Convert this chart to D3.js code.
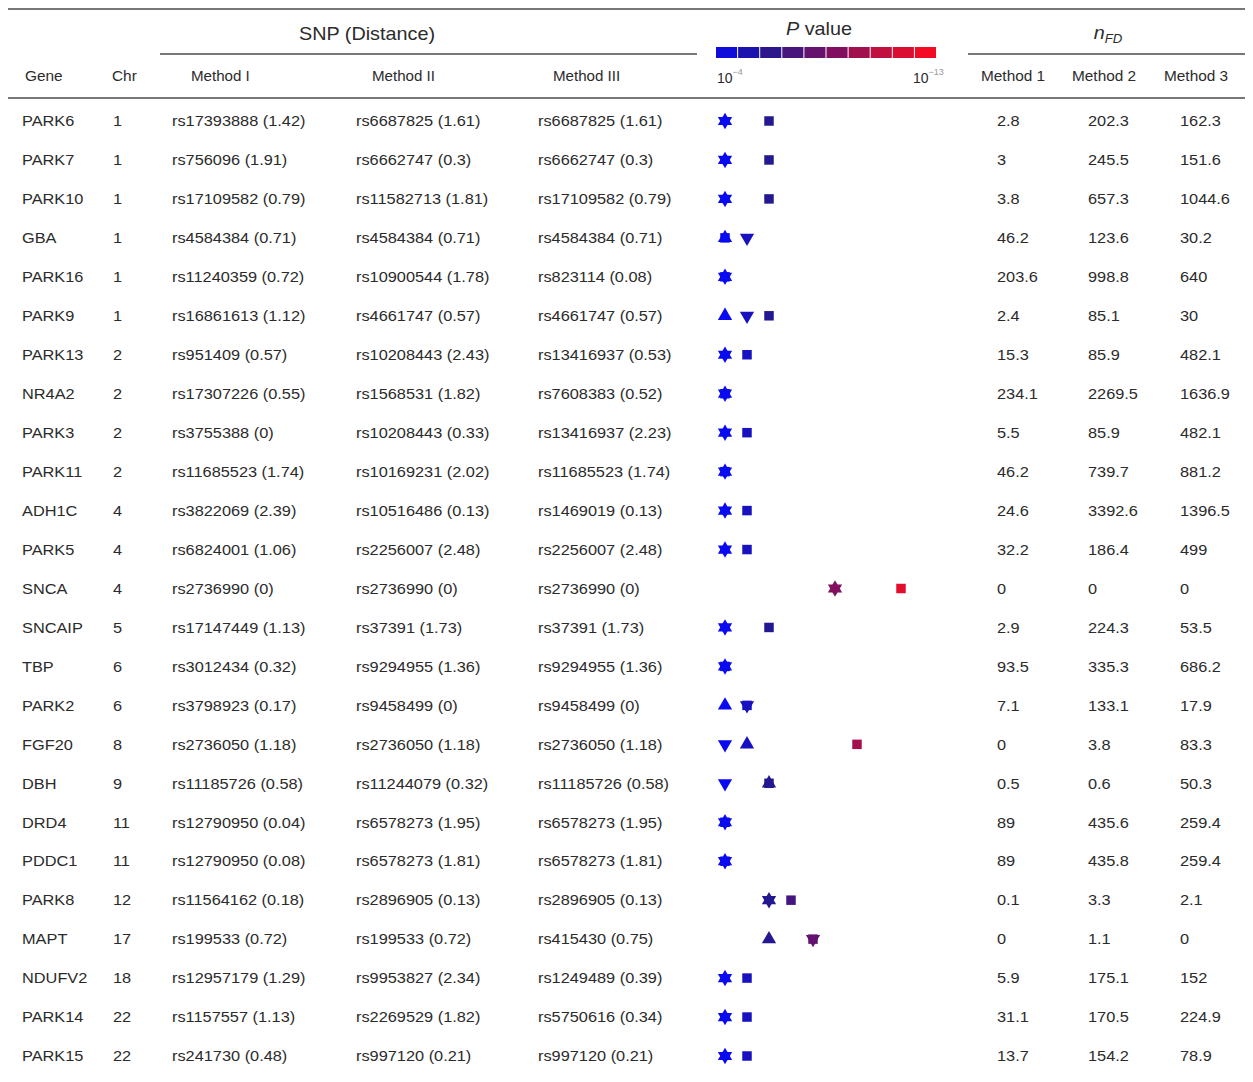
<!DOCTYPE html>
<html>
<head>
<meta charset="utf-8">
<script src="https://cdn.jsdelivr.net/npm/d3@7"></script>
<style>
  body { margin: 0; background: #fff; }
  svg text { font-family: "Liberation Sans", Arial, sans-serif; fill: #2b2b2b; }
</style>
</head>
<body>
<svg id="chart"></svg>
<script>
const genes = ["PARK6", "PARK7", "PARK10", "GBA", "PARK16", "PARK9", "PARK13", "NR4A2", "PARK3", "PARK11",
  "ADH1C", "PARK5", "SNCA", "SNCAIP", "TBP", "PARK2", "FGF20", "DBH", "DRD4", "PDDC1",
  "PARK8", "MAPT", "NDUFV2", "PARK14", "PARK15"];
const chr = ["1", "1", "1", "1", "1", "1", "2", "2", "2", "2", "4", "4", "4", "5", "6", "6", "8", "9", "11", "11",
  "12", "17", "18", "22", "22"];
const snpMethodI = ["rs17393888 (1.42)", "rs756096 (1.91)", "rs17109582 (0.79)", "rs4584384 (0.71)", "rs11240359 (0.72)",
  "rs16861613 (1.12)", "rs951409 (0.57)", "rs17307226 (0.55)", "rs3755388 (0)", "rs11685523 (1.74)",
  "rs3822069 (2.39)", "rs6824001 (1.06)", "rs2736990 (0)", "rs17147449 (1.13)", "rs3012434 (0.32)",
  "rs3798923 (0.17)", "rs2736050 (1.18)", "rs11185726 (0.58)", "rs12790950 (0.04)", "rs12790950 (0.08)",
  "rs11564162 (0.18)", "rs199533 (0.72)", "rs12957179 (1.29)", "rs1157557 (1.13)", "rs241730 (0.48)"];
const snpMethodII = ["rs6687825 (1.61)", "rs6662747 (0.3)", "rs11582713 (1.81)", "rs4584384 (0.71)", "rs10900544 (1.78)",
  "rs4661747 (0.57)", "rs10208443 (2.43)", "rs1568531 (1.82)", "rs10208443 (0.33)", "rs10169231 (2.02)",
  "rs10516486 (0.13)", "rs2256007 (2.48)", "rs2736990 (0)", "rs37391 (1.73)", "rs9294955 (1.36)",
  "rs9458499 (0)", "rs2736050 (1.18)", "rs11244079 (0.32)", "rs6578273 (1.95)", "rs6578273 (1.81)",
  "rs2896905 (0.13)", "rs199533 (0.72)", "rs9953827 (2.34)", "rs2269529 (1.82)", "rs997120 (0.21)"];
const snpMethodIII = ["rs6687825 (1.61)", "rs6662747 (0.3)", "rs17109582 (0.79)", "rs4584384 (0.71)", "rs823114 (0.08)",
  "rs4661747 (0.57)", "rs13416937 (0.53)", "rs7608383 (0.52)", "rs13416937 (2.23)", "rs11685523 (1.74)",
  "rs1469019 (0.13)", "rs2256007 (2.48)", "rs2736990 (0)", "rs37391 (1.73)", "rs9294955 (1.36)",
  "rs9458499 (0)", "rs2736050 (1.18)", "rs11185726 (0.58)", "rs6578273 (1.95)", "rs6578273 (1.81)",
  "rs2896905 (0.13)", "rs415430 (0.75)", "rs1249489 (0.39)", "rs5750616 (0.34)", "rs997120 (0.21)"];
// -log10(P) per marker shape
const negLogPUp = [4, 4, 4, 4, 4, 4, 4, 4, 4, 4, 4, 4, 9, 4, 4, 4, 5, 6, 4, 4, 6, 6, 4, 4, 4];
const negLogPDown = [4, 4, 4, 5, 4, 5, 4, 4, 4, 4, 4, 4, 9, 4, 4, 5, 4, 4, 4, 4, 6, 8, 4, 4, 4];
const negLogPSquare = [6, 6, 6, 4, 4, 6, 5, 4, 5, 4, 5, 5, 12, 6, 4, 5, 10, 6, 4, 4, 7, 8, 5, 5, 5];
const nfdMethod1 = [2.8, 3, 3.8, 46.2, 203.6, 2.4, 15.3, 234.1, 5.5, 46.2, 24.6, 32.2, 0, 2.9, 93.5, 7.1, 0, 0.5, 89, 89,
  0.1, 0, 5.9, 31.1, 13.7];
const nfdMethod2 = [202.3, 245.5, 657.3, 123.6, 998.8, 85.1, 85.9, 2269.5, 85.9, 739.7, 3392.6, 186.4, 0, 224.3, 335.3,
  133.1, 3.8, 0.6, 435.6, 435.8, 3.3, 1.1, 175.1, 170.5, 154.2];
const nfdMethod3 = [162.3, 151.6, 1044.6, 30.2, 640, 30, 482.1, 1636.9, 482.1, 881.2, 1396.5, 499, 0, 53.5, 686.2,
  17.9, 83.3, 50.3, 259.4, 259.4, 2.1, 0, 152, 224.9, 78.9];
const pDomain = [4, 13];
const pTickExponents = ["\u22124", "\u221213"];

document.addEventListener("DOMContentLoaded", function () {
    const width = 1253, height = 1082;
    const svg = d3.select("#chart").attr("width", width).attr("height", height);

    const yScale = d3.scalePoint().domain(genes).range([121, 1056]);
    const xScale = d3.scaleLinear().domain(pDomain).range([725, 923]);
    const color = d3.scaleLinear()
        .domain([4, 6, 9, 11, 13])
        .range(["#0a0af0", "#241890", "#82105e", "#c8103a", "#ff0a1e"]);

    function label(x, y, str, size, sx, anchor) {
        return svg.append("text")
            .attr("transform", `translate(${x},${y}) scale(${sx},1)`)
            .attr("font-size", size)
            .attr("text-anchor", anchor || "start")
            .attr("dy", "0.35em")
            .text(str);
    }

    // rules
    const rule = (x1, x2, y, w) => svg.append("line")
        .attr("x1", x1).attr("x2", x2).attr("y1", y).attr("y2", y)
        .attr("stroke", "#4a4a4a").attr("stroke-width", w);
    rule(8, 1245, 9, 1.7);
    rule(160, 697, 54, 1.5);
    rule(968, 1245, 54, 1.5);
    rule(8, 1245, 98, 1.7);

    // headers
    label(367, 34, "SNP (Distance)", 18, 1.1, "middle");
    label(25, 76, "Gene", 14, 1.1);
    label(112, 76, "Chr", 14, 1.1);
    label(191, 76, "Method I", 14, 1.08);
    label(372, 76, "Method II", 14, 1.08);
    label(553, 76, "Method III", 14, 1.08);
    label(981, 76, "Method 1", 14, 1.1);
    label(1072, 76, "Method 2", 14, 1.1);
    label(1164, 76, "Method 3", 14, 1.1);

    const pv = label(819, 29, "", 18, 1.1, "middle");
    pv.append("tspan").attr("font-style", "italic").text("P");
    pv.append("tspan").text(" value");

    const nfd = label(1108, 33, "", 18, 1.1, "middle");
    nfd.append("tspan").attr("font-style", "italic").text("n");
    nfd.append("tspan").attr("font-style", "italic").attr("font-size", 12).attr("dy", 4).text("FD");

    // colour bar
    const barScale = d3.scaleLinear().domain(pDomain).range([716, 937]);
    const nSeg = 10;
    const segs = d3.range(nSeg).map(i => pDomain[0] + (pDomain[1] - pDomain[0]) * i / nSeg);
    const segW = (barScale(pDomain[1]) - barScale(pDomain[0])) / nSeg;
    svg.append("g").selectAll("rect").data(segs).join("rect")
        .attr("x", d => barScale(d))
        .attr("y", 47)
        .attr("width", segW - 1)
        .attr("height", 11)
        .attr("fill", d => color(d + (pDomain[1] - pDomain[0]) / nSeg / 2));

    pTickExponents.forEach((e, i) => {
        const t = svg.append("text")
            .attr("x", i === 0 ? barScale(pDomain[0]) + 1 : barScale(pDomain[1]) - 24)
            .attr("y", 83)
            .attr("font-size", 14)
            .text("10");
        t.append("tspan").attr("font-size", 9).attr("dy", -8).attr("fill", "#999").text(e);
    });

    // table body
    const cols = [
        { x: 22, vals: genes },
        { x: 113, vals: chr },
        { x: 172, vals: snpMethodI },
        { x: 356, vals: snpMethodII },
        { x: 538, vals: snpMethodIII },
        { x: 997, vals: nfdMethod1 },
        { x: 1088, vals: nfdMethod2 },
        { x: 1180, vals: nfdMethod3 }
    ];
    cols.forEach(c => {
        svg.append("g").selectAll("text").data(genes).join("text")
            .attr("transform", (g, i) => `translate(${c.x},${yScale(g)}) scale(1.09,1)`)
            .attr("font-size", 15)
            .attr("dy", "0.35em")
            .text((g, i) => String(c.vals[i]));
    });

    // markers: squares underneath, triangles on top
    const sq = d3.symbol().type(d3.symbolSquare).size(90);
    const tri = d3.symbol().type(d3.symbolTriangle).size(88);
    const marks = svg.append("g");
    marks.selectAll("path.sq").data(genes).join("path")
        .attr("class", "sq")
        .attr("d", sq)
        .attr("transform", (g, i) => `translate(${xScale(negLogPSquare[i])},${yScale(g)})`)
        .attr("fill", (g, i) => color(negLogPSquare[i]));
    marks.selectAll("path.up").data(genes).join("path")
        .attr("class", "up")
        .attr("d", tri)
        .attr("transform", (g, i) => `translate(${xScale(negLogPUp[i])},${yScale(g)})`)
        .attr("fill", (g, i) => color(negLogPUp[i]));
    marks.selectAll("path.down").data(genes).join("path")
        .attr("class", "down")
        .attr("d", tri)
        .attr("transform", (g, i) => `translate(${xScale(negLogPDown[i])},${yScale(g)}) rotate(180)`)
        .attr("fill", (g, i) => color(negLogPDown[i]));
});
</script>
</body>
</html>
